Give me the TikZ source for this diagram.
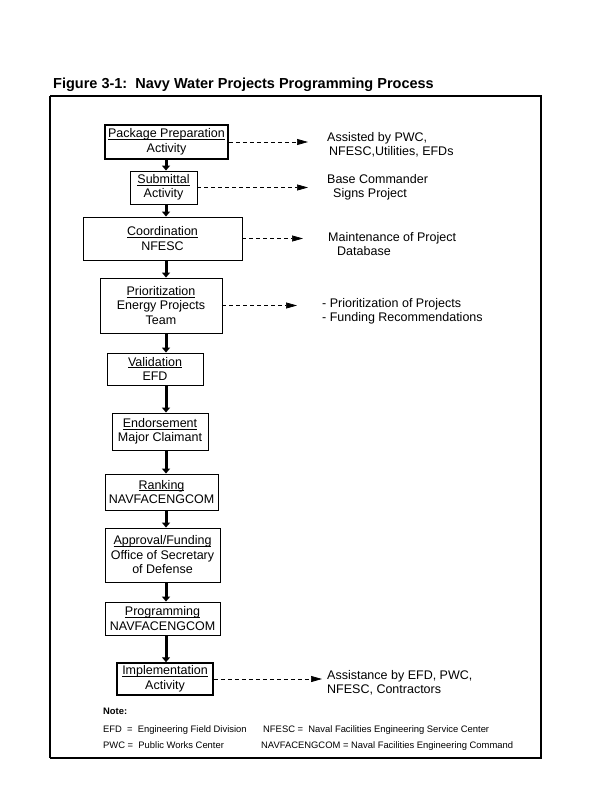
\documentclass[tikz,border=0pt]{standalone}
\usepackage{fontspec}
\setmainfont{Liberation Sans}
\usetikzlibrary{arrows.meta}
\newcommand\ulx[1]{\setbox0\hbox{#1}\rlap{\rule[-1.7pt]{\wd0}{0.65pt}}\box0}
\begin{document}
\begin{tikzpicture}[x=1pt,y=-1pt,
  box/.style={draw, line width=0.9pt, inner sep=0pt, align=center,
    font=\fontsize{12.5}{14.5}\selectfont},
  side/.style={inner sep=0pt, align=left, anchor=west,
    font=\fontsize{12.5}{14.5}\selectfont},
  notetext/.style={inner sep=0pt, anchor=base west, font=\fontsize{9.4}{11}\selectfont},
  vline/.style={line width=3pt, -{Triangle[length=5pt,width=8pt]}},
  dasharrow/.style={line width=0.7pt, dash pattern=on 4pt off 3pt,
    -{Triangle[length=11pt,width=6pt]}}]
\useasboundingbox (0,0) rectangle (611,789);
% title
\node[inner sep=0pt, anchor=base west, font=\fontsize{14.5}{16}\bfseries] (title) at (53,89)
  {Figure 3-1:\ \ Navy Water Projects Programming Process};
% frame
\draw[line width=1.1pt] (50,96) -- (541,96) -- (541,758);
\draw[line width=1.1pt] (50,96) -- (50,758);
\draw[line width=2pt] (49.5,758) -- (541.5,758);
% boxes
\coordinate (ax) at (166,0);
\node[box, line width=1.5pt, minimum width=123pt, minimum height=34pt] (n1) at (166.5,142) {\ulx{Package Preparation}\\Activity};
\node[box, minimum width=67pt, minimum height=33pt] (n2) at (163.5,187.5) {\ulx{Submittal}\\Activity};
\node[box, minimum width=159pt, minimum height=43pt] (n3) at (162.5,238.5) {\ulx{Coordination}\\NFESC};
\node[box, minimum width=122pt, minimum height=55pt] (n4) at (161,305.5) {\ulx{Prioritization}\\Energy Projects\\Team};
\node[box, minimum width=96pt, minimum height=32pt] (n5) at (155,369) {\ulx{Validation}\\EFD};
\node[box, minimum width=96pt, minimum height=37pt] (n6) at (160,431.5) {\ulx{Endorsement}\\Major Claimant};
\node[box, minimum width=113pt, minimum height=36pt] (n7) at (161.5,492) {\ulx{Ranking}\\NAVFACENGCOM};
\node[box, minimum width=115pt, minimum height=54pt] (n8) at (162.5,555) {\ulx{Approval/Funding}\\Office of Secretary\\of Defense};
\node[box, minimum width=115pt, minimum height=33pt] (n9) at (162.5,618.5) {\ulx{Programming}\\NAVFACENGCOM};
\node[box, line width=1.5pt, minimum width=96pt, minimum height=32pt] (n10) at (165,679) {\ulx{Implementation}\\Activity};
% vertical arrows
\foreach \a/\b in {n1/n2,n2/n3,n3/n4,n4/n5,n5/n6,n6/n7,n7/n8,n8/n9,n9/n10}
  \draw[vline] (\a.south -| ax) -- (\b.north -| ax);
% side texts
\node[side] (t1) at (327,145) {Assisted by PWC,\\\hspace*{2pt}NFESC,Utilities, EFDs};
\node[side] (t2) at (327,187.5) {Base Commander\\\hspace*{6pt}Signs Project};
\node[side] (t3) at (328,244) {Maintenance of Project\\\hspace*{9pt}Database};
\node[side] (t4) at (322,311.5) {- Prioritization of Projects\\- Funding Recommendations};
\node[side] (t5) at (327,683) {Assistance by EFD, PWC,\\NFESC, Contractors};
% dashed arrows
\draw[dasharrow, shorten >=19pt] (n1.east) -- (n1.east -| t1.west);
\draw[dasharrow, shorten >=19pt] (n2.east) -- (n2.east -| t2.west);
\draw[dasharrow, shorten >=25pt] (n3.east) -- (n3.east -| t3.west);
\draw[dasharrow, shorten >=25pt] (n4.east) -- (n4.east -| t4.west);
\draw[dasharrow, shorten >=5pt] (n10.east) -- (n10.east -| t5.west);
% notes
\node[notetext, font=\fontsize{9.4}{11}\bfseries] (note) at (103,714) {Note:};
\node[notetext] (k1) at (103,732.5) {EFD \ = \ Engineering Field Division};
\node[notetext] (k2) at (263,732.5) {NFESC = \ Naval Facilities Engineering Service Center};
\node[notetext] (k3) at (103,748.5) {PWC = \ Public Works Center};
\node[notetext] (k4) at (261,748.5) {NAVFACENGCOM = Naval Facilities Engineering Command};
\end{tikzpicture}
\end{document}
